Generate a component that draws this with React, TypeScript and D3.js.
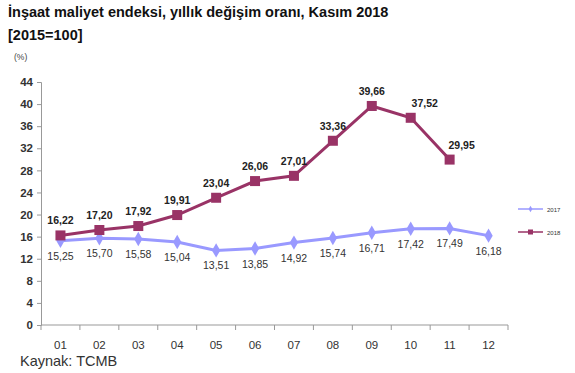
import React, { useRef, useEffect } from 'react';
import * as d3 from 'd3';

const months = ['01', '02', '03', '04', '05', '06', '07', '08', '09', '10', '11', '12'];
const values2017 = [15.25, 15.7, 15.58, 15.04, 13.51, 13.85, 14.92, 15.74, 16.71, 17.42, 17.49, 16.18];
const values2018 = [16.22, 17.2, 17.92, 19.91, 23.04, 26.06, 27.01, 33.36, 39.66, 37.52, 29.95];
const yTicks = [0, 4, 8, 12, 16, 20, 24, 28, 32, 36, 40, 44];
// small horizontal nudges for the 2018 labels, as in the source chart
const labelShift2018 = [0, 0, 0, 0, 0, 0, 0, 0, 0, 14, 12];

const COLOR_2017 = '#9999ff';
const COLOR_2018 = '#993366';

const fmt = (v: number) => v.toFixed(2).replace('.', ',');

const App: React.FC = () => {
  const svgRef = useRef<SVGSVGElement>(null);
  const width = 575;
  const height = 373;

  useEffect(() => {
    if (!svgRef.current) return;
    const svg = d3.select(svgRef.current);
    svg.selectAll('*').remove();

    const left = 41;
    const right = 508;
    const top = 82;
    const bottom = 325;

    const x = d3.scaleBand<string>().domain(months).range([left, right]);
    const y = d3.scaleLinear().domain([0, 44]).range([bottom, top]);
    const cx = (i: number) => (x(months[i]) || 0) + x.bandwidth() / 2;

    // titles
    svg.append('text')
      .attr('x', 8).attr('y', 17)
      .attr('font-family', 'Arial, Liberation Sans, sans-serif')
      .attr('font-size', 14.5).attr('font-weight', 'bold').attr('fill', '#111')
      .text('İnşaat maliyet endeksi, yıllık değişim oranı, Kasım 2018');
    svg.append('text')
      .attr('x', 8).attr('y', 40)
      .attr('font-family', 'Arial, Liberation Sans, sans-serif')
      .attr('font-size', 14.5).attr('font-weight', 'bold').attr('fill', '#111')
      .text('[2015=100]');
    svg.append('text')
      .attr('x', 14).attr('y', 60)
      .attr('font-family', 'Arial, Liberation Sans, sans-serif')
      .attr('font-size', 8.5).attr('fill', '#444')
      .text('(%)');

    // y axis
    const yAxis = svg.append('g')
      .attr('transform', `translate(${left},0)`)
      .call(d3.axisLeft(y).tickValues(yTicks).tickSize(4).tickPadding(4));
    yAxis.select('.domain').attr('stroke', '#999');
    yAxis.selectAll('.tick line').attr('stroke', '#999');
    yAxis.selectAll('text')
      .attr('font-family', 'Arial, Liberation Sans, sans-serif')
      .attr('font-size', 11.5).attr('font-weight', 'bold').attr('fill', '#333');

    // x axis with ticks at band boundaries
    const xg = svg.append('g');
    xg.append('line')
      .attr('x1', left).attr('x2', right).attr('y1', bottom).attr('y2', bottom)
      .attr('stroke', '#999');
    const bounds = months.map((m) => x(m) || 0).concat([right]);
    xg.selectAll('.xt').data(bounds).enter().append('line')
      .attr('x1', (d) => d).attr('x2', (d) => d)
      .attr('y1', bottom).attr('y2', bottom + 5)
      .attr('stroke', '#999');
    xg.selectAll('.xl').data(months).enter().append('text')
      .attr('x', (_, i) => cx(i)).attr('y', bottom + 24)
      .attr('text-anchor', 'middle')
      .attr('font-family', 'Arial, Liberation Sans, sans-serif')
      .attr('font-size', 11.5).attr('fill', '#333')
      .text((d) => d);

    const line = d3.line<number>().x((_, i) => cx(i)).y((d) => y(d));

    // 2017
    svg.append('path').datum(values2017)
      .attr('fill', 'none').attr('stroke', COLOR_2017).attr('stroke-width', 3)
      .attr('d', line);
    svg.selectAll('.m17').data(values2017).enter().append('path')
      .attr('transform', (d, i) => `translate(${cx(i)},${y(d)})`)
      .attr('d', d3.symbol(d3.symbolDiamond, 60)())
      .attr('fill', COLOR_2017);
    svg.selectAll('.l17').data(values2017).enter().append('text')
      .attr('x', (_, i) => cx(i)).attr('y', (d) => y(d) + 19)
      .attr('text-anchor', 'middle')
      .attr('font-family', 'Arial, Liberation Sans, sans-serif')
      .attr('font-size', 10.5).attr('fill', '#333')
      .text((d) => fmt(d));

    // 2018
    svg.append('path').datum(values2018)
      .attr('fill', 'none').attr('stroke', COLOR_2018).attr('stroke-width', 3)
      .attr('d', line);
    svg.selectAll('.m18').data(values2018).enter().append('rect')
      .attr('x', (_, i) => cx(i) - 5).attr('y', (d) => y(d) - 5)
      .attr('width', 10).attr('height', 10)
      .attr('fill', COLOR_2018);
    svg.selectAll('.l18').data(values2018).enter().append('text')
      .attr('x', (_, i) => cx(i) + labelShift2018[i]).attr('y', (d) => y(d) - 11)
      .attr('text-anchor', 'middle')
      .attr('font-family', 'Arial, Liberation Sans, sans-serif')
      .attr('font-size', 10.5).attr('font-weight', 'bold').attr('fill', '#222')
      .text((d) => fmt(d));

    // legend
    const legend = [
      { name: '2017', color: COLOR_2017, yPos: 209, square: false },
      { name: '2018', color: COLOR_2018, yPos: 232, square: true },
    ];
    legend.forEach((l) => {
      const g = svg.append('g');
      g.append('line')
        .attr('x1', 518).attr('x2', 543).attr('y1', l.yPos).attr('y2', l.yPos)
        .attr('stroke', l.color).attr('stroke-width', 1.5);
      if (l.square) {
        g.append('rect').attr('x', 528).attr('y', l.yPos - 2.5)
          .attr('width', 5).attr('height', 5).attr('fill', l.color);
      } else {
        g.append('path').attr('transform', `translate(530.5,${l.yPos})`)
          .attr('d', d3.symbol(d3.symbolDiamond, 12)()).attr('fill', l.color);
      }
      g.append('text')
        .attr('x', 547).attr('y', l.yPos + 2.5)
        .attr('font-family', 'Arial, Liberation Sans, sans-serif')
        .attr('font-size', 6).attr('fill', '#333')
        .text(l.name);
    });

    // source
    svg.append('text')
      .attr('x', 20).attr('y', 366)
      .attr('font-family', 'Arial, Liberation Sans, sans-serif')
      .attr('font-size', 14.5).attr('fill', '#333')
      .text('Kaynak: TCMB');
  }, []);

  return (
    <svg
      ref={svgRef}
      width={width}
      height={height}
      style={{ position: 'absolute', left: 0, top: 0, background: '#fff' }}
    />
  );
};

export default App;
